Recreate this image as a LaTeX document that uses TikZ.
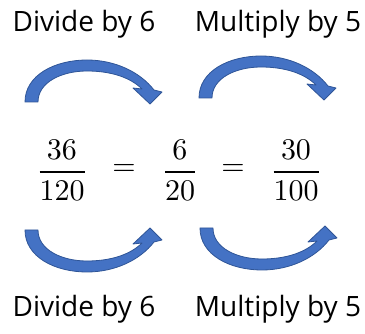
\documentclass[tikz,border=0pt]{standalone}
\usepackage{amsmath}
\usepackage[no-math]{fontspec}
\setmainfont{Open Sans}
\usepackage{tikz}
\usetikzlibrary{positioning}
\definecolor{arrowblue}{RGB}{68, 114, 196}
\definecolor{arrowedge}{RGB}{47, 85, 151}

\tikzset{
    curvearrow/.pic={
        \fill[arrowblue, draw=arrowedge, line width=0.8pt, line join=round]
            (25,102) .. controls (25,75) and (55,60) .. (87,60)
            .. controls (115,60) and (140,72) .. (154,90)
            -- (162,92) -- (150,104) -- (133,88) -- (142,89)
            .. controls (130,77) and (110,71) .. (87,71)
            .. controls (62,71) and (38,82) .. (38,102) -- cycle;
    }
}

\begin{document}
\begin{tikzpicture}[
    x=1pt, y=-1pt,
    every node/.style={inner sep=0pt, outer sep=0pt},
    label/.style={font=\fontsize{28}{33}\selectfont, anchor=base},
    fracnode/.style={scale=3}
]
    \useasboundingbox (0,0) rectangle (365,334);

    % labels
    \node[label] (divtop) at (84,32) {Divide by 6};
    \node[label] (multop) at (278,32) {Multiply by 5};
    \node[label] (divbot) at (84,317) {Divide by 6};
    \node[label] (mulbot) at (278,317) {Multiply by 5};

    % fractions
    \node[fracnode] (frac1) at (62,170) {$\dfrac{36}{120}$};
    \node[fracnode] (eq1) at (124,170) {$=$};
    \node[fracnode] (frac2) at (180,170) {$\dfrac{6}{20}$};
    \node[fracnode] (eq2) at (233,170) {$=$};
    \node[fracnode] (frac3) at (296,170) {$\dfrac{30}{100}$};

    % curved arrows
    \pic at (0,0) {curvearrow};
    \pic[shift={(174,-4)}] at (0,0) {curvearrow};
    \pic[shift={(0,332)}, yscale=-1] at (0,0) {curvearrow};
    \pic[shift={(175,330)}, yscale=-1] at (0,0) {curvearrow};
\end{tikzpicture}
\end{document}
